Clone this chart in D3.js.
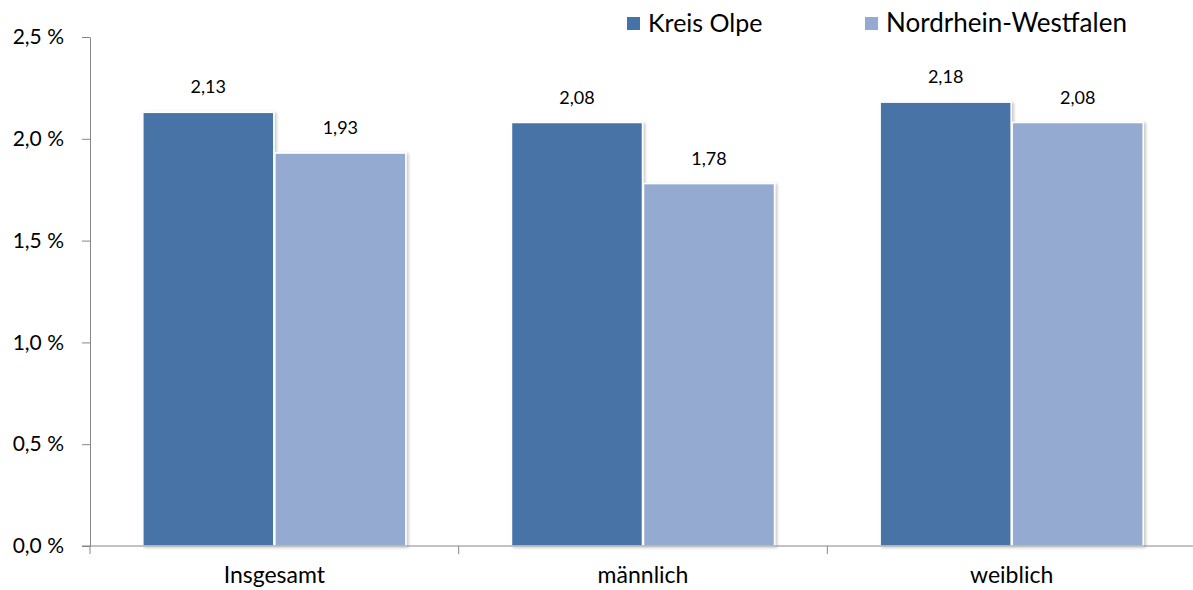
<!DOCTYPE html>
<html><head><meta charset="utf-8">
<script src="https://cdn.jsdelivr.net/npm/d3@7"></script>
<style>body{margin:0;background:#fff}svg{display:block}text{font-family:Lato,"Open Sans",sans-serif;fill:#000}</style>
</head><body>
<svg id="c" width="1193" height="590"></svg>
<script>
const categories = ["Insgesamt", "männlich", "weiblich"];
const series = ["Kreis Olpe", "Nordrhein-Westfalen"];
const kreisOlpe = [2.13, 2.08, 2.18];
const nrw = [1.93, 1.78, 2.08];
const yTicks = [0, 0.5, 1.0, 1.5, 2.0, 2.5];
const colors = ["#4673A7", "#95AAD1"];

(function(){
const svg = d3.select("#c");
const mLeft = 90, mRight = 1196, mTop = 37, mBottom = 546;
const x = d3.scaleBand().domain(categories).range([mLeft, mRight]).paddingInner(0).paddingOuter(0);
const y = d3.scaleLinear().domain([0, 2.5]).range([mBottom, mTop]);
const inner = d3.scaleBand().domain(series).range([0, x.bandwidth()]).paddingInner(0.008).paddingOuter(0.4);
const fmt = v => v.toFixed(2).replace(".", ",");
const values = [kreisOlpe, nrw];

const defs = svg.append("defs");
const f = defs.append("filter").attr("id","sh").attr("x","-10%").attr("y","-10%").attr("width","130%").attr("height","130%");
f.append("feDropShadow").attr("dx",2).attr("dy",1).attr("stdDeviation",1.5).attr("flood-color","#000").attr("flood-opacity",0.22);

series.forEach((s, si) => {
  const g = svg.append("g");
  g.selectAll("rect").data(categories).join("rect")
    .attr("x", c => x(c) + inner(s))
    .attr("y", (c, i) => y(values[si][i]))
    .attr("width", inner.bandwidth())
    .attr("height", (c, i) => y(0) - y(values[si][i]))
    .attr("fill", colors[si])
    .attr("stroke", "#fff").attr("stroke-width", 1.5)
    .attr("filter", "url(#sh)");
  g.selectAll("text").data(categories).join("text")
    .attr("x", c => x(c) + inner(s) + inner.bandwidth() / 2)
    .attr("y", (c, i) => y(values[si][i]) - 19)
    .attr("text-anchor", "middle").attr("font-size", 18)
    .text((c, i) => fmt(values[si][i]));
});

const ya = svg.append("g").attr("transform", `translate(${mLeft},0)`)
  .call(d3.axisLeft(y).tickValues(yTicks).tickSize(8).tickSizeOuter(0).tickFormat(v => v.toFixed(1).replace(".", ",") + " %"));
ya.select(".domain").attr("stroke", "#868686");
ya.selectAll(".tick line").attr("stroke", "#868686");
ya.selectAll(".tick text").attr("font-size", 21).attr("x", -26).attr("font-family", "Lato,'Open Sans',sans-serif").attr("fill","#000");

const xa = svg.append("g").attr("transform", `translate(0,${mBottom})`);
xa.append("line").attr("x1", mLeft - 8).attr("x2", mRight).attr("stroke", "#868686");
const bounds = categories.map(c => x(c)).concat([x(categories[categories.length-1]) + x.bandwidth()]);
xa.selectAll("line.t").data(bounds).join("line").attr("class","t")
  .attr("x1", d => d).attr("x2", d => d).attr("y1", 0).attr("y2", 8).attr("stroke", "#868686");
xa.selectAll("text").data(categories).join("text")
  .attr("x", c => x(c) + x.bandwidth() / 2).attr("y", 37)
  .attr("text-anchor", "middle").attr("font-size", 23).text(c => c);

const legX = [627, 865];
series.forEach((s, i) => {
  svg.append("rect").attr("x", legX[i]).attr("y", 17).attr("width", 13).attr("height", 13).attr("fill", colors[i]);
  svg.append("text").attr("x", legX[i] + 21).attr("y", 32).attr("font-size", i === 0 ? 25 : 26).text(s);
});
})();
</script>
</body></html>
